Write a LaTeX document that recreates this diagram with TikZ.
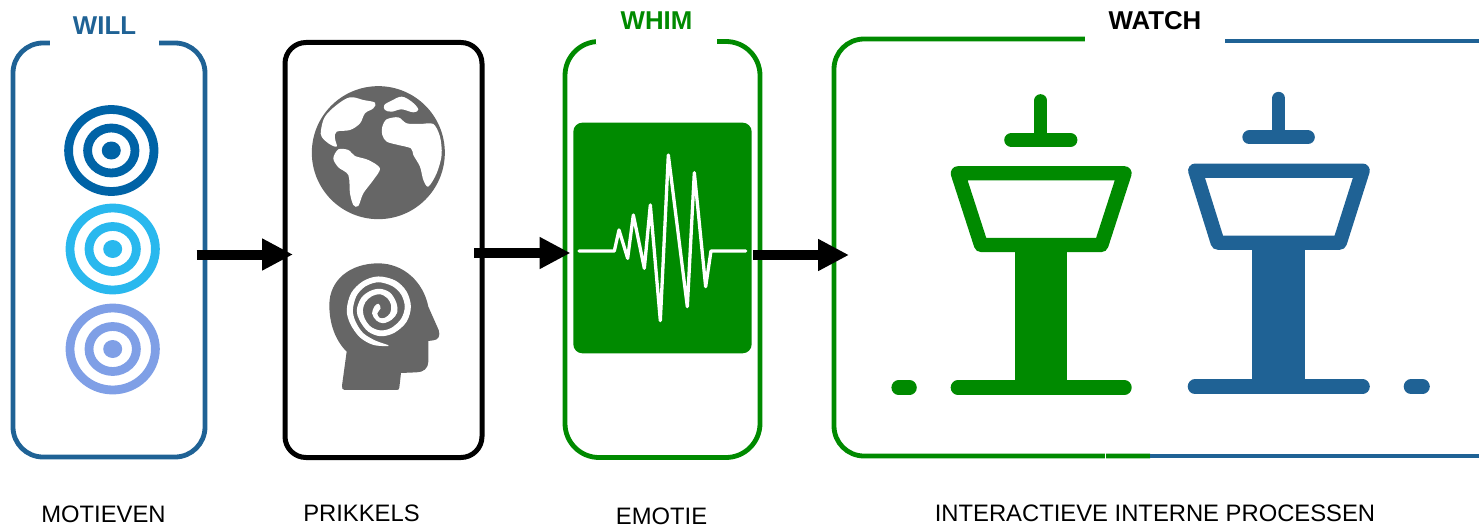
\documentclass[tikz,border=0pt]{standalone}
\usepackage{fontspec}
\setmainfont{Liberation Sans}
\usetikzlibrary{arrows.meta}
\definecolor{wblue}{HTML}{1F6295}
\definecolor{wgreen}{HTML}{008A00}
\definecolor{gicon}{HTML}{666666}
\definecolor{tA}{HTML}{0063A6}
\definecolor{tB}{HTML}{29B8EE}
\definecolor{tC}{HTML}{7F9FE6}
\tikzset{
  panel/.style={draw=#1,line width=4.8pt,fill=none,inner sep=0pt,outer sep=0pt},
  title/.style={font=\fontsize{25.8}{30}\selectfont\bfseries,fill=white,inner sep=0pt,outer sep=0pt,minimum height=46pt},
  caption/.style={font=\fontsize{23.8}{28}\selectfont,inner sep=0pt,text=black},
  flow/.style={line width=10pt,-{Triangle[length=31pt,width=30pt]},black},
  ring/.style={draw=#1,line width=8.8pt,fill=none},
  iconline/.style={draw=#1,line width=14.3pt,line cap=round,line join=round},
  zoomB/.style={shift={(880,80)},x=0.357pt,y=-0.3333pt},
  zoomC/.style={shift={(555,100)},x=0.3333pt,y=-0.3333pt},
  zoomD/.style={shift={(320,255)},x=0.3333pt,y=-0.3333pt},
  zoomE/.style={shift={(305,80)},x=0.3333pt,y=-0.3333pt}
}
\begin{document}
\begin{tikzpicture}[x=1pt,y=-1pt]
\useasboundingbox (0,0) rectangle (1479,527);
% panels
\node[panel=wblue,rounded corners=30pt,minimum width=192pt,minimum height=414pt] (will) at (109,250) {};
\node[panel=black,line width=5pt,rounded corners=21pt,minimum width=197pt,minimum height=415pt] (prik) at (383.5,250) {};
\node[panel=wgreen,rounded corners=34pt,minimum width=195pt,minimum height=416pt] (whim) at (662.5,249.5) {};
\node[inner sep=0pt,outer sep=0pt,minimum width=645pt,minimum height=417pt] (watch) at (1156.5,247.5) {};
% watch border
\draw[wgreen,line width=4.8pt] (1085,39) -- (864,39) arc[start angle=90,end angle=180,radius=30pt] -- (834,426) arc[start angle=180,end angle=270,radius=30pt] -- (1150,456);
\draw[wblue,line width=4.8pt] (1225,41) -- (1479,41);
\draw[wblue,line width=4.8pt] (1150,456) -- (1479,456);
\draw[white,line width=0.8pt] (1105.5,453) -- (1105.5,459);
% titles
\node[title,text=wblue,minimum width=109pt] (twill) at (104.5,26) {WILL};
\node[title,text=wgreen,minimum width=121pt] (twhim) at (656.5,21) {WHIM};
\node[title,text=black,minimum width=140pt] (twatch) at (1155,21) {WATCH};
% captions
\node[caption] (cmot) at (103.5,514) {MOTIEVEN};
\node[caption] (cpri) at (361.5,513) {PRIKKELS};
\node[caption] (cemo) at (661.5,516) {EMOTIE};
\node[caption] (cint) at (1155,513) {INTERACTIEVE INTERNE PROCESSEN};
% targets
\foreach \cx/\cy/\col in {111.3/150.5/tA,112.7/249/tB,112.7/349/tC}{
  \draw[ring=\col] (\cx,\cy) ellipse[x radius=42.7pt,y radius=41pt];
  \draw[ring=\col] (\cx,\cy) ellipse[x radius=23.7pt,y radius=22.5pt];
  \fill[\col] (\cx,\cy) ellipse[x radius=9.5pt,y radius=9pt];
}
% globe
\begin{scope}[zoomE]
  \fill[gicon] (220,218) circle[radius=66.5pt];
  \fill[white] plot[smooth cycle,tension=0.6] coordinates {(48,150) (60,110) (95,75) (135,52) (175,60) (210,68) (205,85) (180,100) (165,130) (135,150) (95,155) (90,175) (95,200) (70,190) (50,170)};
  \fill[white] plot[smooth cycle,tension=0.6] coordinates {(238,75) (260,62) (290,50) (320,65) (340,88) (325,97) (290,88) (260,95) (240,90)};
  \fill[white] plot[smooth cycle,tension=0.5] coordinates {(232,140) (245,118) (280,112) (305,130) (345,132) (385,132) (405,170) (410,225) (395,280) (370,320) (355,300) (345,260) (325,225) (318,205) (280,195) (245,185) (232,165)};
  \fill[white] plot[smooth cycle,tension=0.5] coordinates {(85,235) (100,208) (130,210) (150,228) (190,240) (225,265) (205,300) (175,340) (160,378) (145,375) (135,340) (130,285) (100,262)};
\end{scope}
% head
\begin{scope}[zoomD]
  \fill[gicon] (66,392) -- (80,290)
    .. controls (45,255) and (28,205) .. (28,150)
    .. controls (28,75) and (90,25) .. (175,25)
    .. controls (250,25) and (310,80) .. (325,155)
    -- (356,225) .. controls (362,242) and (355,255) .. (340,256)
    -- (325,258) -- (325,320)
    .. controls (325,340) and (310,352) .. (290,352)
    -- (243,354) -- (238,398)
    .. controls (237,404) and (235,405) .. (230,405)
    -- (74,405) .. controls (68,405) and (65,400) .. (66,392) -- cycle;
  \filldraw[white,line width=1.1pt,line join=round] plot[smooth,tension=0.55] coordinates {(205,272) (160,268) (120,245) (92,205) (82,165) (95,115) (130,80) (175,66) (225,78) (258,110) (271,155) (258,200) (222,232) (182,242) (145,228) (120,195) (112,165) (125,130) (150,110) (180,103) (210,115) (228,145) (230,172) (215,192) (190,203) (170,195) (158,175) (165,155) (175,148) (180,160) (170,175) (178,190) (195,190) (212,175) (215,150) (203,128) (180,116) (155,122) (135,140) (127,165) (133,192) (152,217) (182,228) (215,220) (245,192) (256,155) (245,118) (218,92) (175,80) (135,93) (108,122) (97,165) (105,200) (128,235) (165,258) (205,272)};
\end{scope}
% pulse
\begin{scope}[zoomC]
  \fill[wgreen,rounded corners=9pt] (55,68) rectangle (590,760);
  \draw[white,line width=3.3pt,line cap=round,line join=round] (72,453) -- (178,453) -- (192,390) -- (218,475) -- (235,345) -- (268,505) -- (286,315) -- (316,662) -- (340,165) -- (397,620) -- (418,218) -- (452,560) -- (468,453) -- (572,453);
\end{scope}
% towers
\begin{scope}[zoomB]
  \draw[iconline=wgreen,line width=13pt] (450,62) -- (450,180);
  \draw[iconline=wgreen] (368,180) -- (533,180);
  \draw[iconline=wgreen] (218,280) -- (685,280) -- (620,495) -- (283,495) -- cycle;
  \fill[wgreen] (377,495) rectangle (524,923);
  \draw[iconline=wgreen] (218,923) -- (685,923);
  \draw[iconline=wgreen] (52,923) -- (83,923);
  \draw[iconline=wblue,line width=13pt] (1117,55) -- (1117,172);
  \draw[iconline=wblue] (1035,172) -- (1198,172);
  \draw[iconline=wblue] (883,272) -- (1352,272) -- (1288,488) -- (946,488) -- cycle;
  \fill[wblue] (1043,488) rectangle (1191,920);
  \draw[iconline=wblue] (882,920) -- (1352,920);
  \draw[iconline=wblue] (1487,920) -- (1520,920);
\end{scope}
% connectors
\draw[flow] ([shift={(-8.5,4.5)}]will.east) -- ([shift={(8,4.5)}]prik.west);
\draw[flow] ([shift={(-8,3)}]prik.east) -- ([shift={(5.5,3.5)}]whim.west);
\draw[flow] ([shift={(-7,5.5)}]whim.east) -- ([shift={(15,7.5)}]watch.west);
\end{tikzpicture}
\end{document}
